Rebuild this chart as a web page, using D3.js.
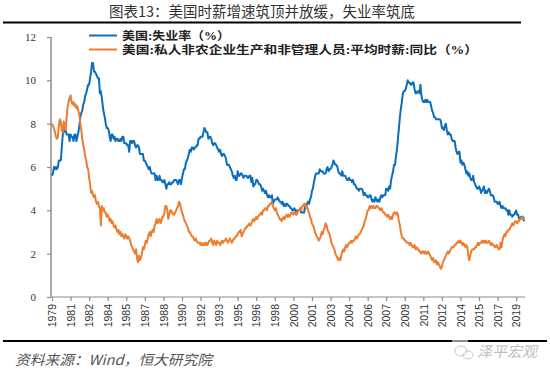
<!DOCTYPE html>
<html><head><meta charset="utf-8">
<script src="https://cdn.jsdelivr.net/npm/d3@7/dist/d3.min.js"></script>
<style>html,body{margin:0;padding:0;background:#fff;}svg{display:block;}</style>
</head><body>
<svg id="chart" width="550" height="372"></svg>
<script>
// ---- DATA ----
const title = "图表13：美国时薪增速筑顶并放缓，失业率筑底";
const source = "资料来源：Wind，恒大研究院";
const seriesNames = ["美国:失业率（%）", "美国:私人非农企业生产和非管理人员:平均时薪:同比（%）"];
const startYear = 1979, startMonth = 6; // monthly data, Jun 1979 – Sep 2019
const yTicks = [0, 2, 4, 6, 8, 10, 12];
const xTickStep = 19; // months between category labels
const xTickLabels = ["1979","1981","1982","1984","1985","1987","1988","1990","1992","1993","1995","1996","1998","2000","2001","2003","2004","2006","2007","2009","2011","2012","2014","2015","2017","2019"];

const unemployment = [
 5.6,5.7,6.0,5.9,6.0,5.9,6.0,
 6.3,6.3,6.3,6.9,7.5,7.6,7.8,7.7,7.5,7.5,7.5,7.2,
 7.5,7.4,7.4,7.2,7.5,7.5,7.2,7.4,7.6,7.9,8.3,8.5,
 8.6,8.9,9.0,9.3,9.4,9.6,9.8,9.8,10.1,10.4,10.8,10.8,
 10.4,10.4,10.3,10.2,10.1,10.1,9.4,9.5,9.2,8.8,8.5,8.3,
 8.0,7.8,7.8,7.7,7.4,7.2,7.5,7.5,7.3,7.4,7.2,7.3,
 7.3,7.2,7.2,7.3,7.2,7.4,7.4,7.1,7.1,7.1,7.0,7.0,
 6.7,7.2,7.2,7.1,7.2,7.2,7.0,6.9,7.0,7.0,6.9,6.6,
 6.6,6.6,6.6,6.3,6.3,6.2,6.1,6.0,5.9,6.0,5.8,5.7,
 5.7,5.7,5.7,5.4,5.6,5.4,5.4,5.6,5.4,5.4,5.3,5.3,
 5.4,5.2,5.0,5.2,5.2,5.3,5.2,5.2,5.3,5.3,5.4,5.4,
 5.4,5.3,5.2,5.4,5.4,5.2,5.5,5.7,5.9,5.9,6.2,6.3,
 6.4,6.6,6.8,6.7,6.9,6.9,6.8,6.9,6.9,7.0,7.0,7.3,
 7.3,7.4,7.4,7.4,7.6,7.8,7.7,7.6,7.6,7.3,7.4,7.4,
 7.3,7.1,7.0,7.1,7.1,7.0,6.9,6.8,6.7,6.8,6.6,6.5,
 6.6,6.6,6.5,6.4,6.1,6.1,6.1,6.0,5.9,5.8,5.6,5.5,
 5.6,5.4,5.4,5.8,5.6,5.6,5.7,5.7,5.6,5.5,5.6,5.6,
 5.6,5.5,5.5,5.6,5.6,5.3,5.5,5.1,5.2,5.2,5.4,5.4,
 5.3,5.2,5.2,5.1,4.9,5.0,4.9,4.8,4.9,4.7,4.6,4.7,
 4.6,4.6,4.7,4.3,4.4,4.5,4.5,4.5,4.6,4.5,4.4,4.4,
 4.3,4.4,4.2,4.3,4.2,4.3,4.3,4.2,4.2,4.1,4.1,4.0,
 4.0,4.1,4.0,3.8,4.0,4.0,4.0,4.1,3.9,3.9,3.9,3.9,
 4.2,4.2,4.3,4.4,4.3,4.5,4.6,4.9,5.0,5.3,5.5,5.7,
 5.7,5.7,5.7,5.9,5.8,5.8,5.8,5.7,5.7,5.7,5.9,6.0,
 5.8,5.9,5.9,6.0,6.1,6.3,6.2,6.1,6.1,6.0,5.8,5.7,
 5.7,5.6,5.8,5.6,5.6,5.6,5.5,5.4,5.4,5.5,5.4,5.4,
 5.3,5.4,5.2,5.2,5.1,5.0,5.0,4.9,5.0,5.0,5.0,4.9,
 4.7,4.8,4.7,4.7,4.6,4.6,4.7,4.7,4.5,4.4,4.5,4.4,
 4.6,4.5,4.4,4.5,4.4,4.6,4.7,4.6,4.7,4.7,4.7,5.0,
 5.0,4.9,5.1,5.0,5.4,5.6,5.8,6.1,6.1,6.5,6.8,7.3,
 7.8,8.3,8.7,9.0,9.4,9.5,9.5,9.6,9.8,10.0,9.9,9.9,
 9.8,9.8,9.9,9.9,9.6,9.4,9.4,9.5,9.5,9.4,9.8,9.3,
 9.1,9.0,9.0,9.1,9.0,9.1,9.0,9.0,9.0,8.8,8.6,8.5,
 8.3,8.3,8.2,8.2,8.2,8.2,8.2,8.1,7.8,7.8,7.7,7.9,
 8.0,7.7,7.5,7.6,7.5,7.5,7.3,7.2,7.2,7.2,6.9,6.7,
 6.6,6.7,6.7,6.2,6.3,6.1,6.2,6.1,5.9,5.7,5.8,5.6,
 5.7,5.5,5.4,5.4,5.6,5.3,5.2,5.1,5.0,5.0,5.1,5.0,
 4.8,4.9,5.0,5.1,4.8,4.9,4.8,4.9,5.0,4.9,4.7,4.7,
 4.7,4.6,4.4,4.4,4.4,4.3,4.3,4.4,4.2,4.1,4.2,4.1,
 4.1,4.1,4.0,4.0,3.8,4.0,3.8,3.8,3.7,3.8,3.8,3.9,
 4.0,3.8,3.8,3.6,3.6,3.7,3.7,3.7,3.5
];

const wageGrowth = [
 8.0,7.9,7.8,7.6,7.4,7.3,7.4,
 7.9,8.2,8.1,7.7,7.6,8.1,7.8,7.7,8.3,8.8,9.0,9.2,
 9.3,9.0,8.9,9.0,8.8,8.9,8.7,8.8,8.6,8.4,8.0,7.7,
 7.3,7.0,6.8,6.5,6.3,6.0,5.9,5.5,5.2,4.8,4.9,4.7,
 4.6,4.7,4.4,4.3,4.4,4.2,4.1,3.3,4.2,4.0,4.1,3.9,
 3.9,3.7,3.8,3.7,3.5,3.6,3.4,3.5,3.3,3.2,3.3,3.1,
 3.0,3.1,2.9,3.0,2.8,2.9,2.8,2.7,2.9,2.8,2.7,2.8,
 2.7,2.6,2.4,2.3,2.2,2.1,2.0,2.2,1.8,1.6,1.9,1.7,
 1.8,2.0,2.3,2.2,2.4,2.6,2.5,2.7,2.9,3.0,2.8,3.0,
 3.1,3.0,3.3,3.4,3.6,3.4,3.5,3.6,3.4,3.5,3.7,3.7,
 3.9,4.2,4.2,4.0,3.6,3.8,4.0,4.0,3.9,3.8,3.8,3.9,
 4.0,4.1,4.2,4.4,4.3,4.1,3.9,3.8,3.6,3.5,3.4,3.3,
 3.2,3.0,3.0,2.9,2.8,2.8,2.7,2.6,2.7,2.6,2.5,2.5,
 2.5,2.4,2.5,2.4,2.4,2.5,2.4,2.5,2.4,2.5,2.6,2.6,
 2.7,2.5,2.4,2.6,2.5,2.4,2.6,2.5,2.5,2.4,2.5,2.6,
 2.5,2.6,2.6,2.7,2.6,2.5,2.6,2.7,2.6,2.5,2.6,2.7,
 2.7,2.8,2.8,2.9,3.0,3.0,3.1,2.8,2.9,3.0,3.1,3.2,
 3.2,3.3,3.3,3.4,3.3,3.4,3.5,3.6,3.5,3.6,3.7,3.6,
 3.7,3.8,3.8,3.9,3.8,4.0,4.0,4.1,4.1,4.0,4.2,4.2,
 4.3,4.3,4.4,4.2,4.1,4.0,4.1,3.9,3.8,3.7,3.6,3.6,
 3.5,3.6,3.7,3.6,3.7,3.8,3.7,3.8,3.7,3.8,3.9,3.9,
 3.8,3.9,3.9,3.8,3.9,4.0,4.0,4.1,4.0,4.2,4.2,4.3,
 4.3,4.1,4.2,4.0,3.9,3.7,3.6,3.4,3.3,3.2,3.0,2.9,
 2.8,2.7,2.6,2.7,2.8,3.0,2.9,3.1,3.2,3.4,3.3,3.1,
 3.0,2.9,2.7,2.5,2.4,2.3,2.2,2.0,1.9,1.8,1.7,1.8,
 1.7,1.9,2.1,2.2,2.1,2.3,2.4,2.3,2.4,2.5,2.5,2.6,
 2.5,2.6,2.6,2.7,2.8,2.7,2.8,2.9,2.9,3.0,3.1,3.2,
 3.3,3.5,3.6,3.8,4.0,4.0,4.2,4.1,4.2,4.1,4.2,4.1,
 4.1,4.2,4.2,4.1,4.1,4.0,4.1,4.0,3.9,3.9,3.8,3.8,
 3.7,3.8,3.7,3.6,3.7,3.6,3.8,3.9,3.9,3.8,3.9,3.8,
 3.5,3.3,3.0,2.8,2.7,2.7,2.6,2.6,2.5,2.5,2.5,2.4,
 2.5,2.4,2.3,2.3,2.4,2.2,2.3,2.2,2.2,2.1,2.1,2.0,
 2.1,2.1,2.0,2.1,2.0,2.0,2.1,2.0,1.9,1.8,1.7,1.8,
 1.6,1.6,1.7,1.5,1.6,1.5,1.4,1.3,1.4,1.6,1.7,1.8,
 1.9,2.0,2.1,2.0,2.1,2.2,2.3,2.3,2.3,2.4,2.4,2.5,
 2.5,2.6,2.5,2.6,2.5,2.4,2.5,2.4,2.3,2.4,2.3,1.9,
 1.7,1.9,2.1,2.2,2.2,2.2,2.3,2.3,2.4,2.5,2.4,2.5,
 2.5,2.6,2.5,2.6,2.5,2.6,2.5,2.5,2.6,2.5,2.4,2.5,
 2.4,2.4,2.3,2.3,2.4,2.3,2.2,2.2,2.5,2.3,2.6,2.8,
 2.9,2.8,3.0,3.0,3.1,3.1,3.2,3.3,3.4,3.3,3.4,3.5,
 3.5,3.4,3.5,3.5,3.6,3.6,3.7,3.6,3.7
];

const colors = ["#0a6ebd", "#ed7d31"];

// ---- CHART ----
const svg = d3.select("#chart");
const n = unemployment.length;
const x = d3.scaleLinear().domain([0, n - 1]).range([52, 524]);
const y = d3.scaleLinear().domain([0, 12]).range([297, 37]);

// title
svg.append("text").attr("x", 262).attr("y", 17).attr("text-anchor", "middle")
  .attr("font-family", "'Noto Sans CJK SC', sans-serif").attr("font-size", 14.5)
  .attr("fill", "#333").text(title);
svg.append("line").attr("x1", 3).attr("x2", 521).attr("y1", 22.5).attr("y2", 22.5)
  .attr("stroke", "#000").attr("stroke-width", 2);

// y axis
const yAxis = d3.axisLeft(y).tickValues(yTicks).tickSize(4).tickPadding(11);
const gy = svg.append("g").attr("transform", "translate(51,0)").call(yAxis);
gy.select(".domain").attr("stroke", "#8c8c8c").attr("stroke-width", 1.5).attr("d", "M0,37V297");
gy.selectAll(".tick line").attr("stroke", "#8c8c8c").attr("stroke-width", 1.2);
gy.selectAll(".tick text").attr("font-family", "'Liberation Serif', serif").attr("font-size", 11).attr("fill", "#333");

// x axis
const tickIdx = xTickLabels.map((d, i) => i * xTickStep);
const xAxis = d3.axisBottom(x).tickValues(tickIdx).tickSize(4)
  .tickFormat((d, i) => xTickLabels[i]);
const gx = svg.append("g").attr("transform", "translate(0,297)").call(xAxis);
gx.select(".domain").attr("stroke", "#8c8c8c").attr("stroke-width", 1.2).attr("d", "M51,0H525");
gx.selectAll(".tick line").attr("stroke", "#8c8c8c").attr("stroke-width", 1.2);
gx.selectAll(".tick text")
  .attr("font-family", "'Liberation Sans', Arial, sans-serif").attr("font-size", 10.5).attr("fill", "#333")
  .attr("text-anchor", "end").attr("dy", "0.35em")
  .attr("transform", "translate(0,7) rotate(-90)").attr("x", 0).attr("y", 0);

// lines
const line = d3.line().x((d, i) => x(i)).y(d => y(d));
[unemployment, wageGrowth].forEach((s, k) => {
  svg.append("path").datum(s).attr("d", line).attr("fill", "none")
    .attr("stroke", colors[k]).attr("stroke-width", 2).attr("stroke-linejoin", "round");
});

// legend
const legW = [108, 356];
seriesNames.forEach((name, k) => {
  const ly = 35.5 + k * 14;
  svg.append("line").attr("x1", 89).attr("x2", 117).attr("y1", ly).attr("y2", ly)
    .attr("stroke", colors[k]).attr("stroke-width", 2);
  svg.append("text").attr("x", 122).attr("y", ly + 4)
    .attr("font-family", "'Liberation Serif', 'Noto Sans CJK SC', serif").attr("font-size", 11.5)
    .attr("font-weight", "bold").attr("fill", "#222")
    .attr("textLength", legW[k]).attr("lengthAdjust", "spacingAndGlyphs").text(name);
});

// footer
svg.append("line").attr("x1", 3).attr("x2", 547).attr("y1", 341).attr("y2", 341)
  .attr("stroke", "#000").attr("stroke-width", 2);
svg.append("text").attr("x", 15).attr("y", 365)
  .attr("font-family", "'Noto Sans CJK SC', sans-serif").attr("font-size", 14)
  .attr("font-style", "italic").attr("fill", "#555")
  .attr("textLength", 197).attr("lengthAdjust", "spacingAndGlyphs").text(source);

// watermark
const wm = svg.append("g").attr("opacity", 0.55);
wm.append("rect").attr("x", 452).attr("y", 338).attr("width", 16).attr("height", 6).attr("fill", "#fff");
wm.append("ellipse").attr("cx", 461).attr("cy", 351).attr("rx", 6).attr("ry", 5).attr("fill", "none").attr("stroke", "#999");
wm.append("ellipse").attr("cx", 468).attr("cy", 355).attr("rx", 5).attr("ry", 4).attr("fill", "none").attr("stroke", "#999");
wm.append("text").attr("x", 477).attr("y", 357)
  .attr("font-family", "'Noto Sans CJK SC', sans-serif").attr("font-size", 15)
  .attr("font-style", "italic").attr("fill", "#888").text("泽平宏观");
</script>
</body></html>
